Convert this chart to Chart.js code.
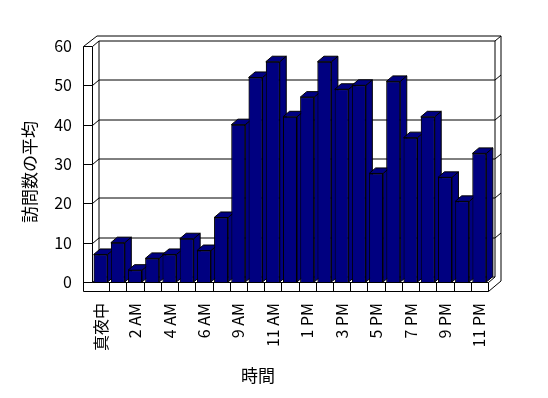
<!DOCTYPE html>
<html>
<head>
<meta charset="utf-8">
<script src="https://cdn.jsdelivr.net/npm/chart.js@4.4.1/dist/chart.umd.min.js"></script>
<style>
  html, body { margin: 0; padding: 0; background: #fff; }
  #wrap { width: 548px; height: 398px; }
</style>
</head>
<body>
<div id="wrap"><canvas id="canvas" width="548" height="398"></canvas></div>
<script>
// hour categories (one hour is missing in the source data)
const hours = ['真夜中', '1 AM', '2 AM', '3 AM', '4 AM', '5 AM', '6 AM', '7 AM', '9 AM', '10 AM',
  '11 AM', '正午', '1 PM', '2 PM', '3 PM', '4 PM', '5 PM', '6 PM', '7 PM', '8 PM', '9 PM', '10 PM', '11 PM'];
const avgVisits = [7, 10, 3, 6, 7, 11, 8, 16.4, 40, 52, 56, 42, 47, 56, 49, 50, 27.6, 51, 36.7, 42, 26.6, 20.5, 32.7];
const yTicks = [0, 10, 20, 30, 40, 50, 60];
const xTitle = '時間';
const yTitle = '訪問数の平均';

const navy = '#000080';
const D = {x: 6.5, y: -5.5};   // depth offset of the 3d look
const WALL = 9;                 // wall / floor thickness

Chart.defaults.font.family = '"Noto Sans CJK JP", sans-serif';
Chart.defaults.color = '#000';

let ctx = document.getElementById('canvas').getContext('2d');

function path(c, pts, close) {
  c.beginPath();
  c.moveTo(pts[0][0], pts[0][1]);
  for (let i = 1; i < pts.length; i++) c.lineTo(pts[i][0], pts[i][1]);
  if (close) c.closePath();
}

const box3d = {
  id: 'box3d',
  beforeDatasetsDraw(chart) {
    const c = chart.ctx;
    const a = chart.chartArea;
    const y = chart.scales.y;
    const L = Math.round(a.left) + 0.5, R = Math.round(a.right) + 0.5;
    const T = Math.round(a.top) + 0.5, B = Math.round(a.bottom) + 0.5;
    c.save();
    c.strokeStyle = '#000';
    c.lineWidth = 1;
    // grid lines: across left wall, back wall, right wall
    yTicks.forEach(v => {
      const py = Math.round(y.getPixelForValue(v)) + 0.5;
      const pts = [[L - WALL, py], [L, py], [L + D.x, py + D.y], [R + D.x, py + D.y]];
      if (v > 0) pts.push([R + D.x + 6, py + D.y - 5]);
      path(c, pts); c.stroke();
    });
    // walls
    path(c, [[L - WALL, T], [L - WALL, B + WALL]]); c.stroke();
    path(c, [[L, T], [L, B]]); c.stroke();
    path(c, [[L + D.x, T + D.y], [L + D.x, B + D.y]]); c.stroke();
    path(c, [[R + D.x, T + D.y], [R + D.x, B + D.y]]); c.stroke();
    path(c, [[R + D.x + 6, T + D.y - 5], [R + D.x + 6, B + D.y + 4]]); c.stroke();
    path(c, [[L - WALL, T], [L + D.x - 2, T + D.y - 5], [R + D.x + 6, T + D.y - 5]]); c.stroke();
    // floor
    path(c, [[L, B], [R, B], [R + D.x, B + D.y]]); c.stroke();
    path(c, [[L - WALL, B + WALL], [R, B + WALL], [R + D.x + 6, B + D.y + 4]]); c.stroke();
    path(c, [[R, B], [R, B + WALL]]); c.stroke();
    const n = hours.length;
    for (let i = 1; i < n; i++) {
      const xb = Math.round(a.left + i * (a.right - a.left) / n) + 0.5;
      path(c, [[xb, B], [xb, B + WALL]]); c.stroke();
    }
    c.restore();
  },
  afterDatasetsDraw(chart) {
    const c = chart.ctx;
    const meta = chart.getDatasetMeta(0);
    c.save();
    c.fillStyle = navy;
    c.strokeStyle = '#000';
    c.lineWidth = 1;
    meta.data.forEach(bar => {
      const p = bar.getProps(['x', 'y', 'base', 'width'], true);
      const l = p.x - p.width / 2, r = p.x + p.width / 2;
      path(c, [[r, p.y], [r + D.x, p.y + D.y], [r + D.x, p.base + D.y], [r, p.base]], true);
      c.fill(); c.stroke();
      path(c, [[l, p.y], [l + D.x, p.y + D.y], [r + D.x, p.y + D.y], [r, p.y]], true);
      c.fill(); c.stroke();
      bar.draw(c);
    });
    c.restore();
  },
  afterDraw(chart) {
    const c = chart.ctx;
    c.save();
    c.fillStyle = '#000';
    c.font = '17px "Noto Sans CJK JP"';
    c.textAlign = 'center';
    c.textBaseline = 'middle';
    c.fillText(xTitle, 258, 376);
    c.translate(30, 172);
    c.rotate(-Math.PI / 2);
    c.fillText(yTitle, 0, 0);
    c.restore();
  }
};

let chart = new Chart(ctx, {
  type: 'bar',
  data: {
    labels: hours,
    datasets: [{
      data: avgVisits,
      backgroundColor: navy,
      borderColor: '#000',
      borderWidth: 1,
      barPercentage: 0.9,
      categoryPercentage: 0.9
    }]
  },
  options: {
    responsive: false,
    devicePixelRatio: 1,
    animation: false,
    layout: {padding: {left: 0, top: 46, right: 60, bottom: 0}},
    plugins: {legend: {display: false}, tooltip: {enabled: false}},
    scales: {
      x: {
        offset: true,
        grid: {display: false, drawTicks: false},
        border: {display: false},
        ticks: {
          autoSkip: false,
          maxRotation: 90,
          minRotation: 90,
          padding: 21,
          font: {size: 16},
          callback: function (v, i) { return i % 2 === 0 ? this.getLabelForValue(v) : ''; }
        },
        afterFit: s => { s.height = 116; }
      },
      y: {
        min: 0,
        max: 60,
        grid: {display: false, drawTicks: false},
        border: {display: false},
        ticks: {stepSize: 10, padding: 20, font: {size: 16}},
        afterFit: s => { s.width = 92; }
      }
    }
  },
  plugins: [box3d]
});
</script>
</body>
</html>
